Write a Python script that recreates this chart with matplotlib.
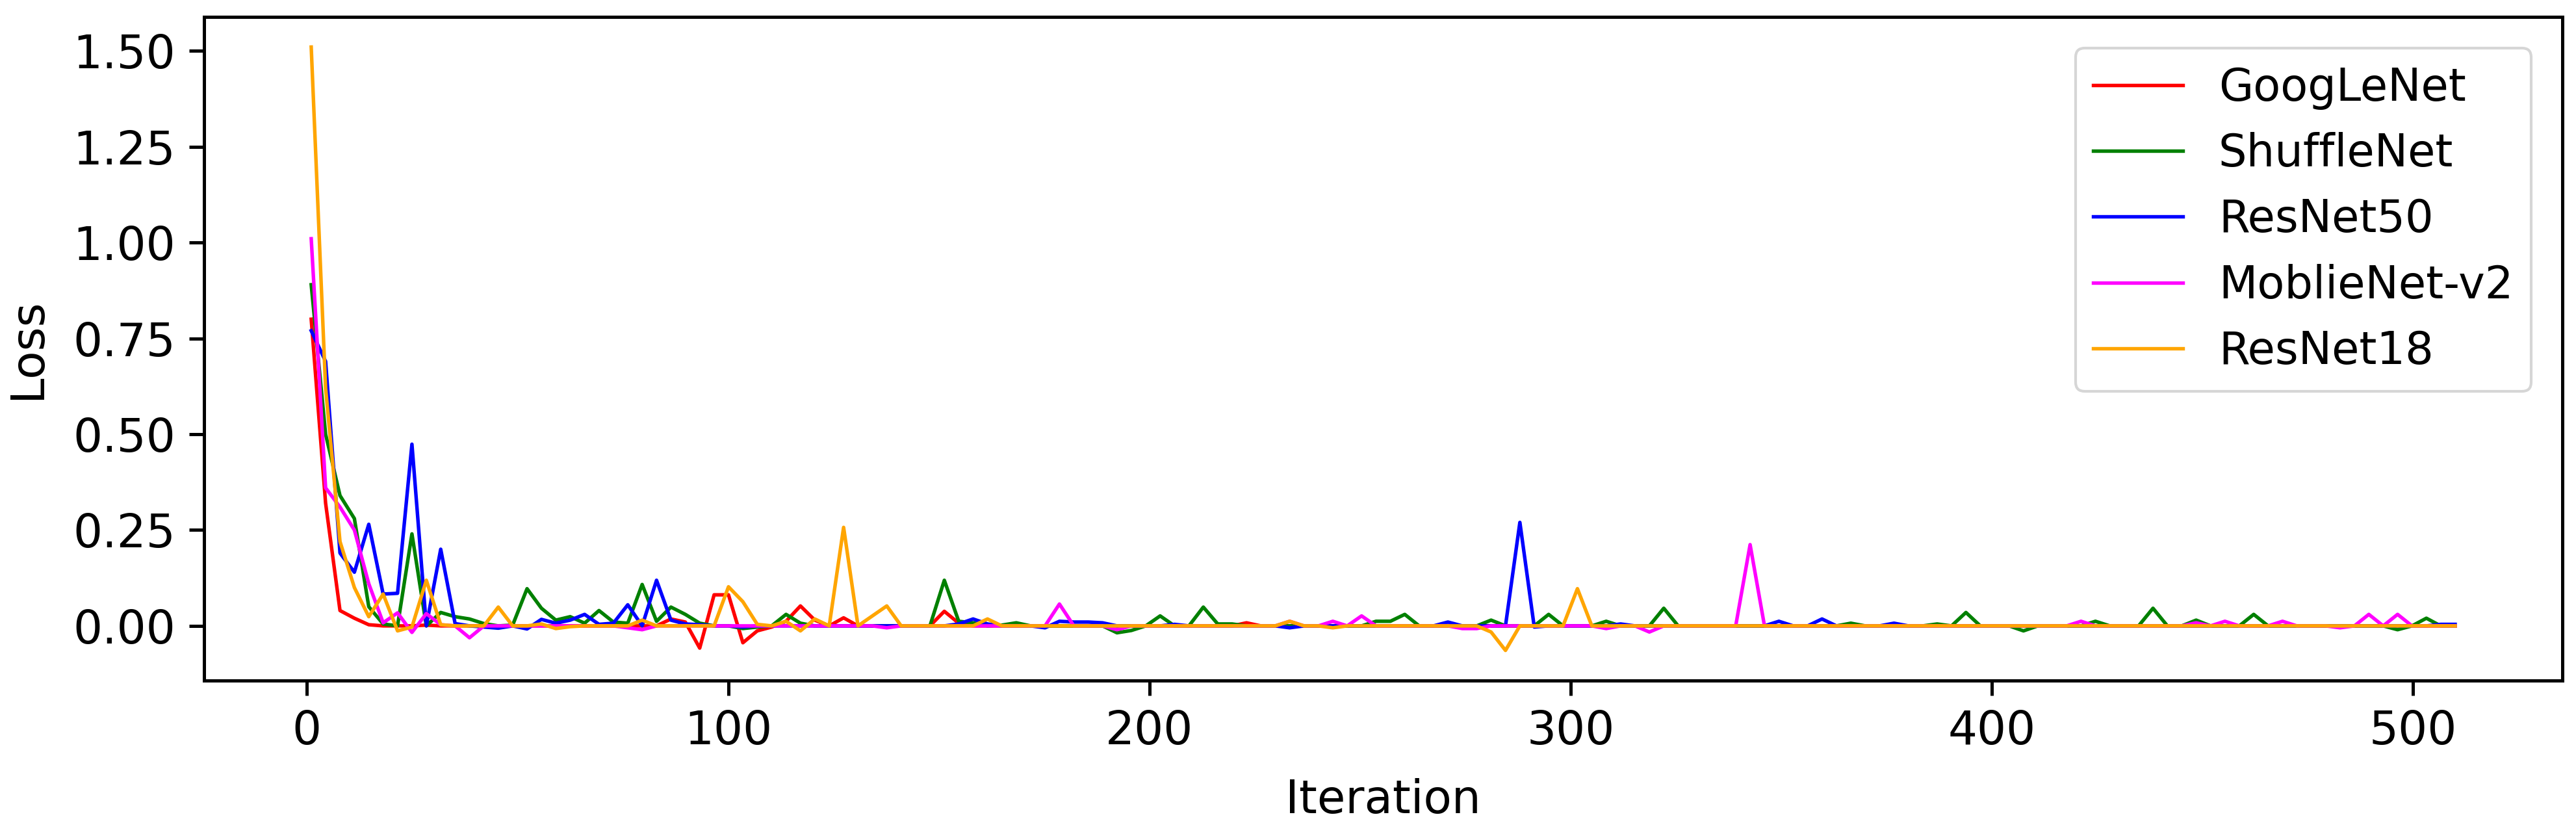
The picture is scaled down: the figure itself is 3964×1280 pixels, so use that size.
import numpy as np
import matplotlib
matplotlib.use("Agg")
import matplotlib.pyplot as plt

# 150 sampled points between iteration 1 and 510
iterations = np.linspace(1, 510, 150)

googlenet = [
    0.80, 0.32, 0.04, 0.02, 0.003, 0.0, 0.0, 0.0, 0.002, 0.0,
    0.0, 0.0, 0.0, 0.0, 0.0, 0.0, 0.0, 0.0, 0.0, 0.0,
    0.0, 0.0, 0.0, 0.0, 0.0, 0.018, 0.01, -0.058, 0.081, 0.081,
    -0.044, -0.013, -0.003, 0.012, 0.052, 0.015, 0.0, 0.021, 0.0, 0.0,
    0.0, 0.0, 0.0, 0.0, 0.038, 0.007, 0.0, 0.0, 0.0, 0.0,
    0.0, 0.0, 0.0, 0.0, 0.0, 0.0, 0.0, 0.0, 0.0, 0.0,
    0.0, 0.0, 0.0, 0.0, 0.0, 0.008, 0.0, 0.0, 0.0, 0.0,
    0.0, 0.0, 0.0, 0.0, 0.0, 0.0, 0.0, 0.0, 0.0, 0.0,
    0.0, 0.0, 0.0, 0.0, 0.0, 0.0, 0.0, 0.0, 0.0, 0.0,
    0.0, 0.0, 0.0, 0.0, 0.0, 0.0, 0.0, 0.0, 0.0, 0.0,
    0.0, 0.0, 0.0, 0.0, 0.0, 0.0, 0.0, 0.0, 0.0, 0.0,
    0.0, 0.0, 0.0, 0.0, 0.0, 0.0, 0.0, 0.0, 0.0, 0.0,
    0.0, 0.0, 0.0, 0.0, 0.0, 0.0, 0.0, 0.0, 0.0, 0.0,
    0.0, 0.0, 0.0, 0.0, 0.0, 0.0, 0.0, 0.0, 0.0, 0.0,
    0.0, 0.0, 0.0, 0.0, 0.0, 0.0, 0.0, 0.0, 0.0, 0.0,
]

shufflenet = [
    0.89, 0.50, 0.34, 0.28, 0.05, 0.005, 0.0, 0.24, 0.0, 0.035,
    0.024, 0.018, 0.006, 0.0, 0.002, 0.097, 0.046, 0.015, 0.024, 0.007,
    0.04, 0.01, 0.007, 0.108, 0.012, 0.049, 0.03, 0.007, 0.0, 0.0,
    -0.007, -0.003, 0.0, 0.03, 0.007, 0.0, 0.0, 0.0, 0.0, 0.0,
    0.0, 0.0, 0.0, 0.0, 0.119, 0.012, 0.008, 0.0, 0.002, 0.008,
    0.0, 0.0, 0.0, 0.0, 0.0, 0.0, -0.018, -0.012, 0.0, 0.026,
    0.0, 0.0, 0.049, 0.005, 0.005, 0.0, 0.0, 0.0, 0.0, 0.0,
    0.0, 0.0, 0.0, 0.0, 0.012, 0.012, 0.03, 0.0, 0.0, 0.0,
    0.0, 0.0, 0.015, 0.0, 0.0, 0.0, 0.03, 0.0, 0.0, 0.0,
    0.012, 0.0, 0.0, 0.0, 0.046, 0.0, 0.0, 0.0, 0.0, 0.0,
    0.0, 0.0, 0.0, 0.0, 0.0, 0.0, 0.0, 0.007, 0.0, 0.0,
    0.0, 0.0, 0.0, 0.005, 0.0, 0.035, 0.0, 0.0, 0.0, -0.013,
    0.0, 0.0, 0.0, 0.0, 0.012, 0.0, 0.0, 0.0, 0.046, 0.0,
    0.0, 0.015, 0.0, 0.0, 0.0, 0.03, 0.0, 0.0, 0.0, 0.0,
    0.0, 0.0, 0.0, 0.0, 0.0, -0.01, 0.0, 0.02, 0.0, 0.0,
]

resnet50 = [
    0.77, 0.69, 0.19, 0.14, 0.265, 0.083, 0.085, 0.474, 0.0, 0.2,
    0.006, 0.0, -0.003, -0.006, 0.0, -0.008, 0.017, 0.007, 0.015, 0.03,
    0.004, 0.007, 0.055, 0.0, 0.119, 0.015, 0.005, 0.003, 0.0, 0.0,
    -0.003, 0.0, 0.0, 0.0, 0.0, 0.0, 0.0, 0.0, 0.0, 0.0,
    0.0, 0.0, 0.0, 0.0, 0.0, 0.005, 0.018, 0.005, 0.0, 0.0,
    0.0, -0.005, 0.012, 0.01, 0.01, 0.008, 0.0, 0.0, 0.0, 0.0,
    0.004, 0.0, 0.0, 0.0, 0.0, 0.0, 0.0, 0.0, -0.005, 0.0,
    0.0, 0.0, 0.0, 0.0, 0.0, 0.0, 0.0, 0.0, 0.0, 0.01,
    0.0, 0.0, 0.0, 0.0, 0.27, -0.003, 0.0, 0.0, 0.0, 0.0,
    0.0, 0.005, 0.0, 0.0, 0.0, 0.0, 0.0, 0.0, 0.0, 0.0,
    0.0, 0.0, 0.012, 0.0, 0.0, 0.018, 0.0, 0.0, 0.0, 0.0,
    0.007, 0.0, 0.0, 0.0, 0.0, 0.0, 0.0, 0.0, 0.0, 0.0,
    0.0, 0.0, 0.0, 0.0, 0.0, 0.0, 0.0, 0.0, 0.0, 0.0,
    0.0, 0.0, 0.0, 0.0, 0.0, 0.0, 0.0, 0.0, 0.0, 0.0,
    0.0, 0.0, 0.0, 0.0, 0.0, 0.0, 0.0, 0.0, 0.004, 0.004,
]

mobilenet_v2 = [
    1.01, 0.36, 0.31, 0.25, 0.11, 0.008, 0.034, -0.017, 0.032, 0.003,
    0.0, -0.031, 0.0, 0.0, 0.0, 0.0, 0.0, 0.0, 0.0, 0.0,
    0.0, 0.0, -0.005, -0.01, 0.0, 0.0, 0.0, 0.0, 0.0, 0.0,
    0.0, 0.0, 0.0, 0.0, 0.0, 0.0, 0.0, 0.0, 0.0, 0.0,
    -0.005, 0.0, 0.0, 0.0, 0.0, 0.0, 0.0, 0.0, 0.0, 0.0,
    0.0, 0.0, 0.057, 0.0, 0.0, 0.0, -0.01, 0.0, 0.0, 0.0,
    0.0, 0.0, 0.0, 0.0, 0.0, 0.0, 0.0, 0.0, 0.012, 0.0,
    0.0, 0.012, 0.0, 0.026, 0.0, 0.0, 0.0, 0.0, 0.0, 0.0,
    -0.007, -0.007, 0.0, 0.0, 0.0, 0.0, 0.0, 0.0, 0.0, 0.0,
    -0.007, 0.0, 0.0, -0.016, 0.0, 0.0, 0.0, 0.0, 0.0, 0.0,
    0.212, 0.0, 0.0, 0.0, 0.0, 0.0, 0.0, 0.0, 0.0, 0.0,
    0.0, 0.0, 0.0, 0.0, 0.0, 0.0, 0.0, 0.0, 0.0, 0.0,
    0.0, 0.0, 0.0, 0.012, 0.0, 0.0, 0.0, 0.0, 0.0, 0.0,
    0.0, 0.008, 0.0, 0.012, 0.0, 0.0, 0.0, 0.012, 0.0, 0.0,
    0.0, -0.005, 0.0, 0.03, 0.0, 0.03, 0.0, 0.0, 0.0, 0.0,
]

resnet18 = [
    1.51, 0.62, 0.22, 0.10, 0.024, 0.083, -0.013, -0.003, 0.119, 0.003,
    0.0, 0.0, 0.0, 0.049, 0.0, 0.0, 0.005, -0.007, -0.002, 0.0,
    0.0, 0.0, 0.0, 0.015, 0.0, 0.0, 0.0, 0.0, 0.0, 0.102,
    0.063, 0.004, 0.0, 0.012, -0.013, 0.018, 0.0, 0.257, 0.0, 0.026,
    0.052, 0.0, 0.0, 0.0, 0.0, 0.0, 0.0, 0.018, 0.0, 0.0,
    0.0, 0.0, 0.0, 0.0, 0.0, 0.0, 0.0, 0.0, 0.0, 0.0,
    0.0, 0.0, 0.0, 0.0, 0.0, 0.0, 0.0, 0.0, 0.012, 0.0,
    0.0, -0.005, 0.0, 0.0, 0.0, 0.0, 0.0, 0.0, 0.0, 0.0,
    0.0, 0.0, -0.016, -0.064, 0.0, 0.0, 0.0, 0.0, 0.097, 0.0,
    0.0, 0.0, 0.0, 0.0, 0.0, 0.0, 0.0, 0.0, 0.0, 0.0,
    0.0, 0.0, 0.0, 0.0, 0.0, 0.0, 0.0, 0.0, 0.0, 0.0,
    0.0, 0.0, 0.0, 0.0, 0.0, 0.0, 0.0, 0.0, 0.0, 0.0,
    0.0, 0.0, 0.0, 0.0, 0.0, 0.0, 0.0, 0.0, 0.0, 0.0,
    0.0, 0.0, 0.0, 0.0, 0.0, 0.0, 0.0, 0.0, 0.0, 0.0,
    0.0, 0.0, 0.0, 0.0, 0.0, 0.0, 0.0, 0.0, 0.0, 0.0,
]

series = [
    ("GoogLeNet", googlenet, "red"),
    ("ShuffleNet", shufflenet, "green"),
    ("ResNet50", resnet50, "blue"),
    ("MoblieNet-v2", mobilenet_v2, "magenta"),
    ("ResNet18", resnet18, "orange"),
]

fs = 17
fig = plt.figure(figsize=(3964 / 300, 1280 / 300), dpi=300)
ax = fig.add_axes([0.0792, 0.182, 0.9155, 0.7977])

for name, values, color in series:
    ax.plot(iterations, values, color=color, linewidth=1.3, label=name)

ax.set_xlabel("Iteration", fontsize=fs, labelpad=9)
ax.set_ylabel("Loss", fontsize=fs, labelpad=8.5)
ax.set_yticks([0.0, 0.25, 0.5, 0.75, 1.0, 1.25, 1.5])
ax.yaxis.set_major_formatter(matplotlib.ticker.FormatStrFormatter("%.2f"))
ax.tick_params(labelsize=fs, length=5.5, width=1.2, pad=5)
for sp in ax.spines.values():
    sp.set_linewidth(1.2)

ax.legend(loc="upper right", fontsize=16.5, borderaxespad=0.7)

fig.savefig("out.png", dpi=300)
